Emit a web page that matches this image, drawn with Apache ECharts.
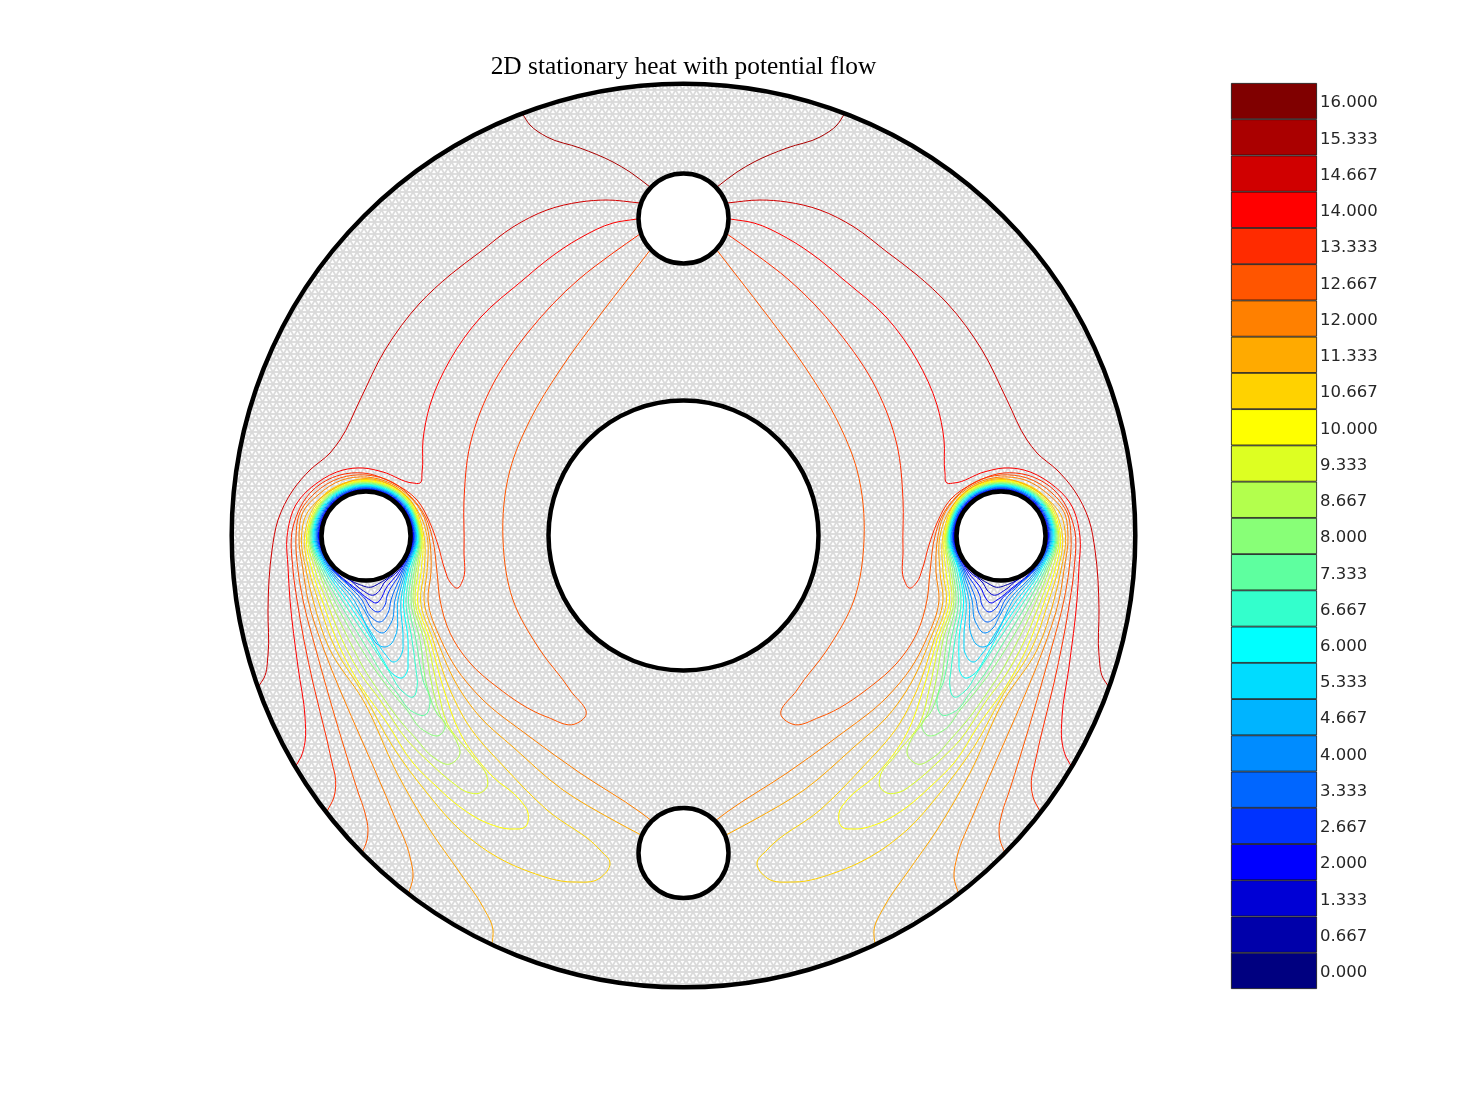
<!DOCTYPE html>
<html><head><meta charset="utf-8">
<style>html,body{margin:0;padding:0;background:#fff}#c{width:1481px;height:1111px}</style>
<script src="https://cdn.jsdelivr.net/npm/echarts@6/dist/echarts.min.js"></script>
</head><body><div id="c"></div>
<script>
const titleText = '2D stationary heat with potential flow';
const levelLabels = ['0.000','0.667','1.333','2.000','2.667','3.333','4.000','4.667','5.333','6.000','6.667','7.333','8.000','8.667','9.333','10.000','10.667','11.333','12.000','12.667','13.333','14.000','14.667','15.333','16.000'];
const levelColors = ['#000080','#0000aa','#0000d5','#0000ff','#0033ff','#0066ff','#008cff','#00b4ff','#00dcff','#00ffff','#33ffcc','#5eff9f','#88ff77','#b3ff4d','#ddff22','#ffff00','#ffd200','#ffaa00','#ff8000','#ff5500','#ff2b00','#ff0000','#d00000','#aa0000','#800000'];
// geometry boundaries: centre x, centre y, radius
const boundaryX = [683.5, 683.5, 366, 1001, 683.5];
const boundaryY = [535.5, 218.5, 536, 536, 853];
const boundaryR = [135, 45, 44.5, 44.5, 45];
const domainX = 683.5, domainY = 535.5, domainR = 451.8;
const symmetryAxis = 683.5;

// Isotherms of the left half of the domain (the field is mirror-symmetric)
const iso_15_333 = [[522,113],[530,125],[547,137],[580,148],[613,162],[630,172],[650,187]];
const iso_14_667 = [[258,687],[264,678],[268,655],[268,610],[269,580],[272,550],[278,520],[293,490],[310,470],[330,453],[340,440],[360,400],[385,350],[420,303],[450,275],[480,252],[513,227],[547,210],[580,202],[607,200],[640,203]];
const iso_14_000 = [[295,767],[301,757],[305,742],[305,717],[298,667],[290,600],[288,567],[287,537],[297,503],[317,483],[343,470],[363,468],[383,472],[413,483],[420,483],[422,473],[423,440],[430,405],[450,360],[480,318],[523,280],[547,260],[580,238],[613,223],[637,219]];
const iso_13_333 = [[326,813],[334,797],[335,775],[333,767],[327,740],[313,683],[297,600],[293,570],[293,527],[313,490],[340,475],[363,473],[393,483],[417,500],[430,523],[438,545],[445,570],[450,582],[458,588],[462,582],[464,550],[464,500],[470,445],[490,390],[530,330],[578,280],[613,253],[640,234]];
const iso_12_667 = [[362,853],[367,840],[368,830],[365,813],[358,792],[347,757],[330,700],[316,650],[303,600],[298,570],[296,536],[299,515],[315,493],[340,478],[366,475],[392,482],[412,498],[426,518],[432,536],[437,572],[440,600],[450,633],[470,663],[497,687],[547,717],[575,724],[585,717],[570,690],[540,650],[513,600],[503,540],[510,470],[530,420],[560,370],[600,315],[627,280],[651,249]];
const iso_12_000 = [[408,895],[413,877],[410,857],[393,813],[363,743],[340,690],[324,650],[308,600],[303,570],[299,536],[303,512],[318,495],[342,480],[366,477],[390,483],[410,497],[424,517],[429,536],[431,572],[428,600],[441,640],[456,668],[480,697],[530,737],[580,773],[640,812],[652,821]];
const iso_11_333 = [[492,945],[493,930],[483,907],[460,873],[430,830],[397,773],[363,700],[330,650],[313,600],[306,570],[301.5,536],[306,515],[322,497],[343,484],[366,478.5],[389,484],[407,497],[421,517],[427,536],[427,572],[424,600],[437,640],[460,690],[480,717],[513,747],[563,790],[613,820],[641,835]];
const iso_10_667 = [[366,479.5],[406.4,495.6],[424,536],[424,572],[420.5,600],[433,640],[450,690],[467,723],[507,770],[547,810],[600,850],[610,863],[600,878],[573,882],[530,872],[497,857],[460,830],[427,793],[393,747],[363,693],[336,650],[318,600],[309,570],[304.5,536],[324.3,494.3],[366,479.5]];
const iso_10_000 = [[366,480.5],[405.6,496.4],[422.5,536],[421,572],[417.5,600],[430,640],[444,690],[460,733],[493,777],[520,800],[528,813],[525,827],[513,829],[487,823],[460,807],[437,787],[413,763],[387,723],[362,688],[341,650],[322,600],[312,570],[306.5,536],[325.3,495.3],[366,480.5]];
const iso_9_333 = [[366,481.3],[405,497],[421.6,536],[418,572],[415,600],[427,640],[438,690],[447,723],[473,757],[487,777],[487,787],[480,793],[467,792],[453,783],[430,763],[407,740],[380,700],[360,673],[347,650],[326,600],[315,570],[308,536],[326.2,496.2],[366,481.3]];
const iso_8_667 = [[366,482],[404.5,497.5],[420.8,536],[416,572],[413,600],[424,640],[433,690],[441,717],[457,742],[460,753],[450,764],[433,757],[417,740],[397,717],[380,693],[363,667],[354,650],[330,600],[318,570],[309,536],[326.8,496.8],[366,482]];
const iso_8_000 = [[366,482.8],[403.9,498.1],[420,536],[414,572],[411,600],[420,640],[428,690],[438,715],[445,723],[440,735],[423,730],[407,710],[390,690],[373,667],[362,650],[334,600],[320,570],[310,536],[327.4,497.4],[366,482.8]];
const iso_7_333 = [[366,483.5],[403.5,498.5],[419.4,536],[412,572],[408.5,600],[416,640],[423,680],[430,703],[425,715],[413,712],[397,693],[383,675],[368,650],[338,600],[322,570],[311,536],[328,498],[366,483.5]];
const iso_6_667 = [[366,484.2],[402.9,499.1],[418.7,536],[410,572],[406,600],[412,640],[416,670],[417,687],[413,697],[403,692],[390,673],[375,650],[342,600],[324,570],[312,536],[328.6,498.6],[366,484.2]];
const iso_6_000 = [[366,485],[402.4,499.6],[418,536],[408,572],[403.5,600],[408,640],[408,660],[407,672],[402,678],[394,675],[383,660],[372,640],[346,600],[326,570],[313,536],[329.2,499.2],[366,485]];
const iso_5_333 = [[366,485.6],[401.9,500.1],[417.2,536],[407,572],[401,600],[403,640],[402,653],[394,662],[385,654],[376,640],[350,600],[327.5,570],[314,536],[329.8,499.8],[366,485.6]];
const iso_4_667 = [[366,486.3],[401.4,500.6],[416.5,536],[405.5,572],[398,600],[395,637],[391,644],[385,647],[377,644],[370,633],[354,600],[329,570],[315,536],[330.4,500.4],[366,486.3]];
const iso_4_000 = [[366,487],[400.9,501.1],[415.8,536],[404,572],[395,600],[391,623],[382,633],[374,628],[368,617],[358,600],[330.5,570],[316,536],[331,501],[366,487]];
const iso_3_333 = [[366,487.6],[400.4,501.6],[415,536],[402.5,572],[391,600],[388,613],[380,622],[371,617],[362,600],[348,585],[332,570],[316.8,536],[331.5,501.5],[366,487.6]];
const iso_2_667 = [[366,488.2],[400,502],[414.4,536],[401,572],[387,596],[385,605],[378,612],[370,607],[366,600],[352,587],[333,570],[317.6,536],[332,502],[366,488.2]];
const iso_2_000 = [[366,488.8],[399.5,502.5],[413.7,536],[399,572],[385,590],[382,597],[376,603],[370,600],[355,588],[334,570],[318.4,536],[332.5,502.5],[366,488.8]];
const iso_1_333 = [[366,489.4],[399.1,502.9],[413,536],[397,572],[384,583],[380,590],[374,595],[362,590],[350,580],[335,570],[319.2,536],[333,503],[366,489.4]];
const iso_0_667 = [[366,490],[398.7,503.3],[412.5,536],[395,572],[378,584],[372,587],[358,584],[345,577],[336,570],[320,536],[333.5,503.5],[366,490]];

const isoLines = [iso_0_667,iso_1_333,iso_2_000,iso_2_667,iso_3_333,iso_4_000,iso_4_667,iso_5_333,iso_6_000,iso_6_667,iso_7_333,iso_8_000,iso_8_667,iso_9_333,iso_10_000,iso_10_667,iso_11_333,iso_12_000,iso_12_667,iso_13_333,iso_14_000,iso_14_667,iso_15_333];

// mesh texture
function meshTile(){
  const a=7, h=6, c=document.createElement('canvas');
  c.width=a; c.height=2*h;
  const g=c.getContext('2d');
  g.fillStyle='#fff'; g.fillRect(0,0,a,2*h);
  g.strokeStyle='#dadada'; g.lineWidth=1.8;
  const seg=(x1,y1,x2,y2)=>{g.beginPath();g.moveTo(x1,y1);g.lineTo(x2,y2);g.stroke();};
  for(let dx=-a;dx<=a;dx+=a){
    seg(dx,0,dx+a,0); seg(dx,2*h,dx+a,2*h);
    seg(dx+a/2,h,dx+a+a/2,h);
    seg(dx,0,dx+a/2,h); seg(dx+a/2,h,dx+a,0);
    seg(dx+a/2,h,dx,2*h); seg(dx+a/2,h,dx+a,2*h);
  }
  return c;
}
const tile = meshTile();

// each span of an isotherm is drawn as one curve through its neighbouring data points
function curveSpan(pts,color){
  const closed = pts[0][0]===pts[pts.length-1][0] && pts[0][1]===pts[pts.length-1][1];
  return function(p,api){
    const i=p.dataIndex, n=pts.length;
    if(i>=n-1) return null;
    const at=k=>{
      if(k<0) return closed?api.coord(pts[n-2]):null;
      if(k>=n) return closed?api.coord(pts[1]):null;
      return api.coord(pts[k]);
    };
    const P0=at(i-1),P1=at(i),P2=at(i+1),P3=at(i+2);
    const d=(a,b)=>Math.hypot(a[0]-b[0],a[1]-b[1]);
    const len=d(P1,P2);
    const tan=(a,b,c)=>{
      if(!a) return [(c[0]-b[0])/d(b,c),(c[1]-b[1])/d(b,c)];
      if(!c) return [(b[0]-a[0])/d(a,b),(b[1]-a[1])/d(a,b)];
      const l1=d(a,b),l2=d(b,c);
      const u=[(b[0]-a[0])/l1,(b[1]-a[1])/l1],v=[(c[0]-b[0])/l2,(c[1]-b[1])/l2];
      const tx=u[0]*l2+v[0]*l1,ty=u[1]*l2+v[1]*l1,m=Math.hypot(tx,ty)||1;
      return [tx/m,ty/m];
    };
    const T1=tan(P0,P1,P2),T2=tan(P1,P2,P3);
    return {type:'bezierCurve',
      shape:{x1:P1[0],y1:P1[1],x2:P2[0],y2:P2[1],
        cpx1:P1[0]+T1[0]*len/3,cpy1:P1[1]+T1[1]*len/3,
        cpx2:P2[0]-T2[0]*len/3,cpy2:P2[1]-T2[1]*len/3},
      style:{stroke:color,fill:null,lineWidth:1}};
  };
}

const series = [];
series.push({
  type:'custom', xAxisIndex:0, yAxisIndex:0, coordinateSystem:'cartesian2d', clip:false, z:1, silent:true,
  data:[[domainX,domainY,domainR]],
  renderItem(p,api){
    const c=api.coord([api.value(0),api.value(1)]), r=api.size([api.value(2),0])[0];
    return {type:'circle',shape:{cx:c[0],cy:c[1],r:r},style:{fill:{image:tile,repeat:'repeat'},stroke:null}};
  }
});
isoLines.forEach((pts,i)=>{
  const col=levelColors[i+1];
  [pts, pts.map(p=>[2*symmetryAxis-p[0],p[1]])].forEach(d=>{
    series.push({type:'custom',xAxisIndex:0,yAxisIndex:0,coordinateSystem:'cartesian2d',data:d,clip:false,z:2,silent:true,
      renderItem:curveSpan(d,col)});
  });
});
series.push({
  type:'custom', xAxisIndex:0, yAxisIndex:0, coordinateSystem:'cartesian2d', clip:false, z:3, silent:true,
  data:boundaryX.map((x,i)=>[x,boundaryY[i],boundaryR[i]]),
  renderItem(p,api){
    const c=api.coord([api.value(0),api.value(1)]), r=api.size([api.value(2),0])[0];
    return {type:'circle',shape:{cx:c[0],cy:c[1],r:r},style:{fill:'#fff',stroke:'#000',lineWidth:4.5}};
  }
});
series.push({
  type:'custom', xAxisIndex:0, yAxisIndex:0, coordinateSystem:'cartesian2d', clip:false, z:4, silent:true,
  data:[[domainX,domainY,domainR]],
  renderItem(p,api){
    const c=api.coord([api.value(0),api.value(1)]), r=api.size([api.value(2),0])[0];
    return {type:'circle',shape:{cx:c[0],cy:c[1],r:r},style:{fill:'none',stroke:'#000',lineWidth:4.5}};
  }
});
series.push({
  type:'bar', xAxisIndex:1, yAxisIndex:1, barWidth:'100%', z:2, silent:true,
  data:levelLabels.map((l,i)=>({value:1,itemStyle:{color:levelColors[i],borderColor:'#111',borderWidth:0.8}}))
});

const chart = echarts.init(document.getElementById('c'),null,{renderer:'canvas'});
chart.setOption({
  animation:false, backgroundColor:'#fff',
  title:{text:titleText,left:678.5,top:50,textAlign:'center',textStyle:{fontFamily:'Liberation Serif',fontWeight:'normal',fontSize:25.4,color:'#000'}},
  grid:[{left:231,top:83,width:905,height:906},{left:1231,top:83,width:86,height:906}],
  xAxis:[{type:'value',gridIndex:0,min:231,max:1136,show:false},
         {type:'value',gridIndex:1,min:0,max:1,show:false}],
  yAxis:[{type:'value',gridIndex:0,min:83,max:989,inverse:true,show:false},
         {type:'category',gridIndex:1,data:levelLabels,position:'right',axisLine:{show:false},axisTick:{show:false},splitLine:{show:false},
          axisLabel:{margin:3,color:'#262626',fontFamily:'DejaVu Sans',fontSize:16.5,verticalAlign:'top',lineHeight:4}}],
  series
});
</script></body></html>
